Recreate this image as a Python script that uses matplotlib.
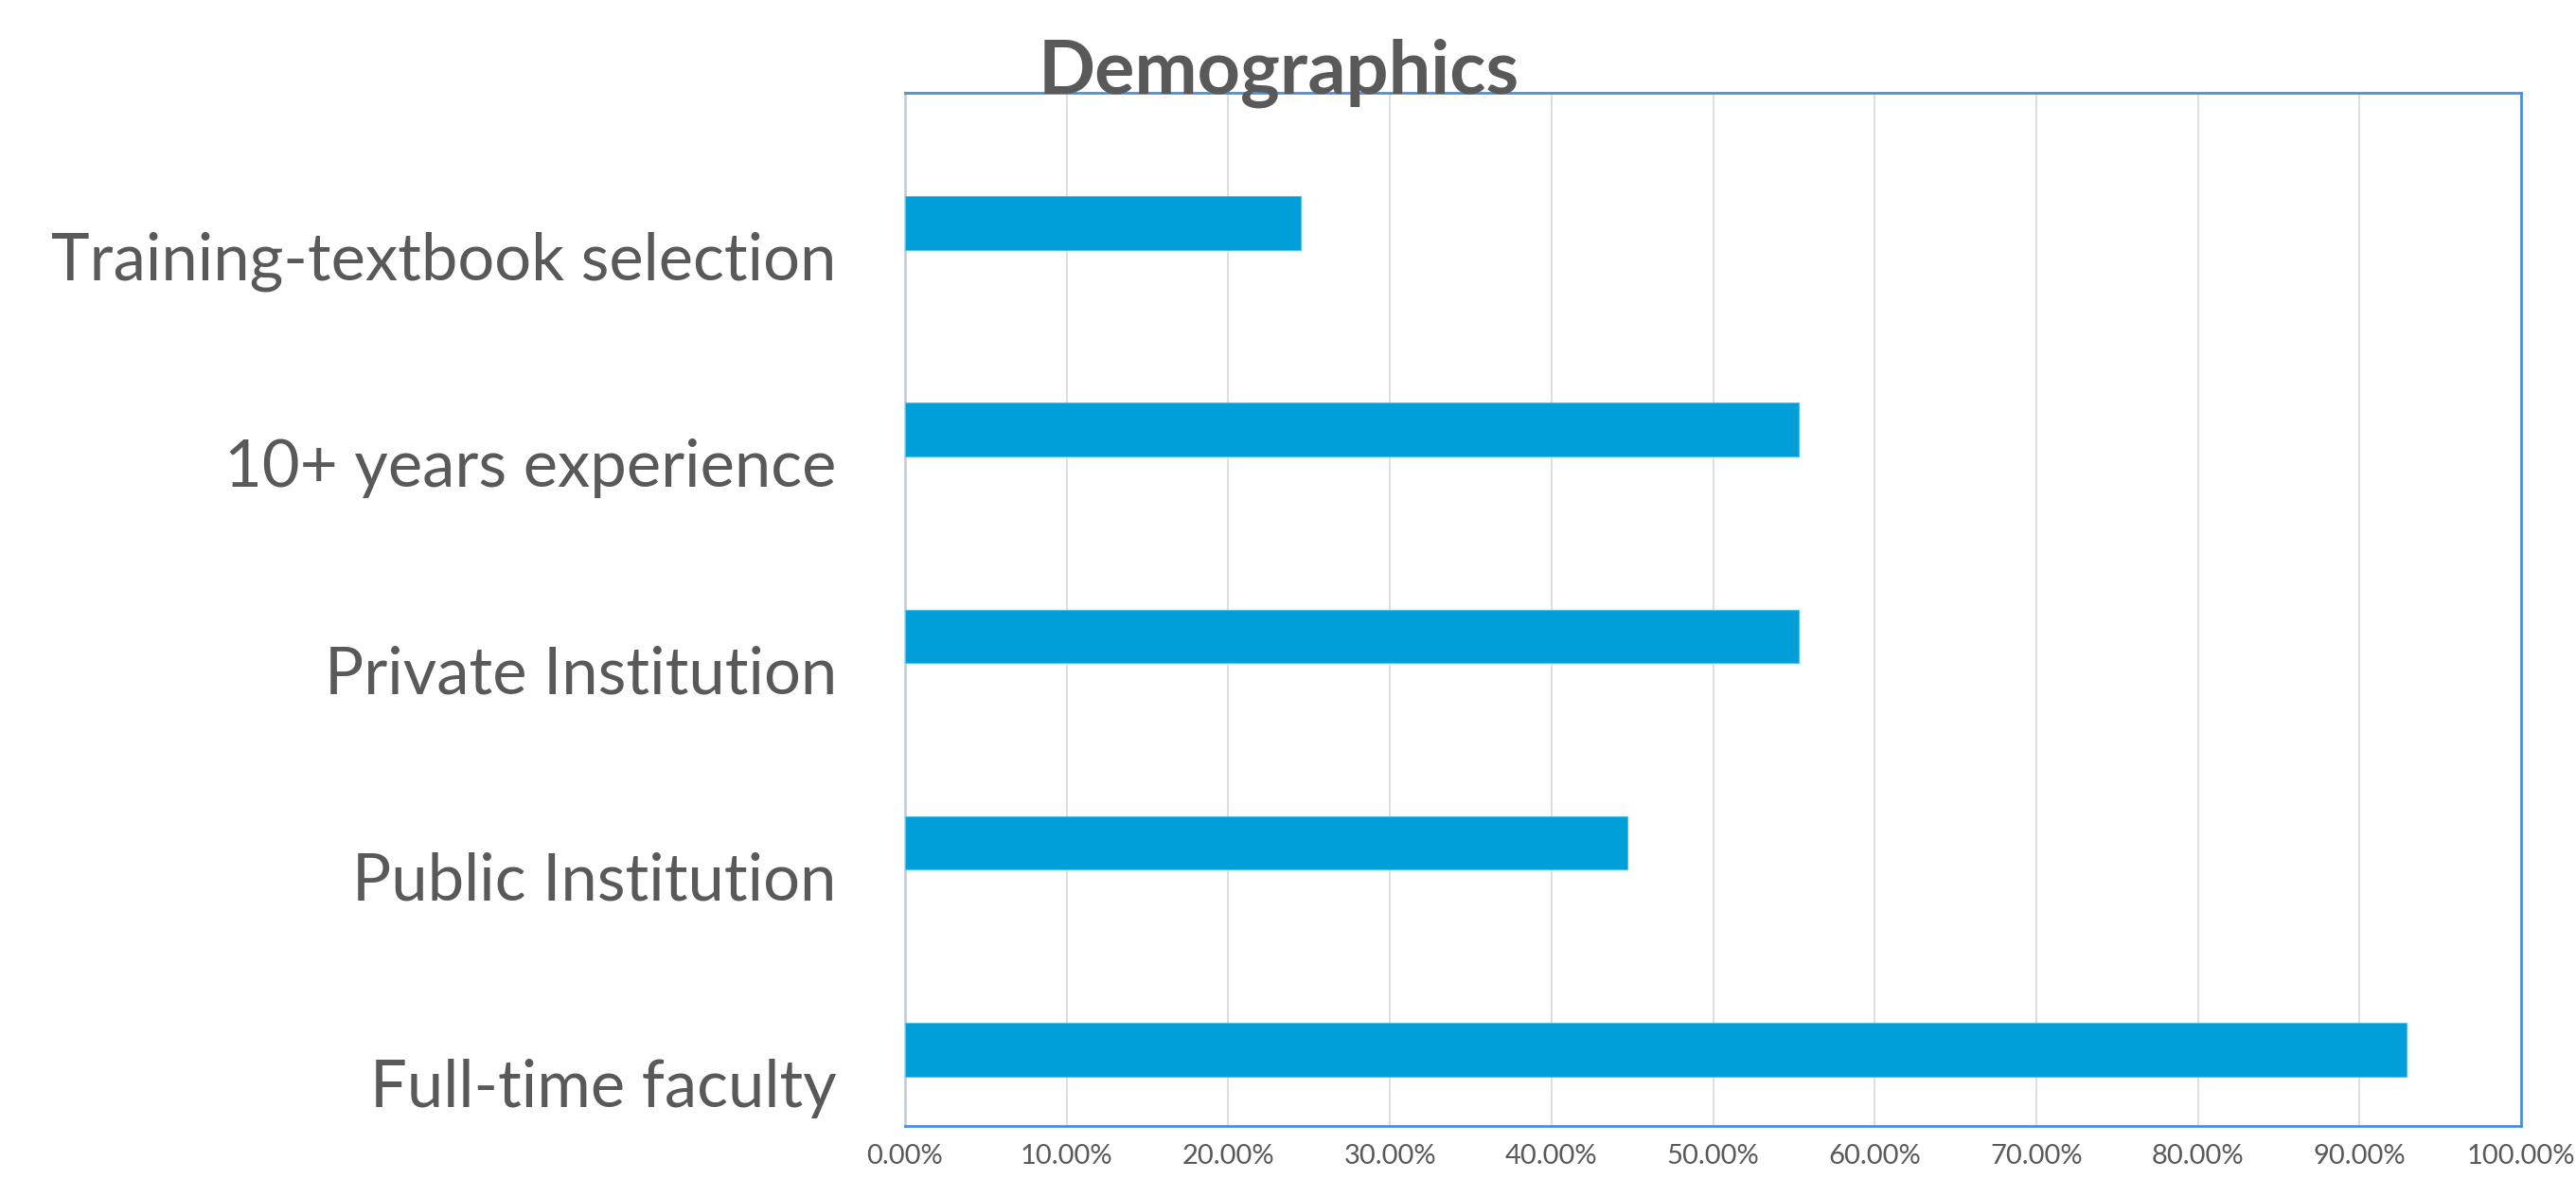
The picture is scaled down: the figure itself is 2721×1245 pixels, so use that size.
import matplotlib
matplotlib.use("Agg")
import matplotlib.pyplot as plt
from matplotlib import font_manager
import numpy as np
from matplotlib.ticker import FuncFormatter, MultipleLocator

# Data (bottom to top)
categories = ["Full-time faculty", "Public Institution", "Private Institution",
              "10+ years experience", "Training-textbook selection"]
values = [0.929, 0.447, 0.553, 0.553, 0.245]
title = "Demographics"

TEXT = "#595959"
BAR = "#009FD9"
BORDER = "#4A90D9"
GRID = "#D9D9D9"
FONT = "Lato"

names = {f.name for f in font_manager.fontManager.ttflist}
if "Liberation Sans Narrow" in names:
    XFONT, XSIZE = "Liberation Sans Narrow", 24.5
else:
    XFONT, XSIZE = "Lato", 21

W, H = 2721, 1245
fig = plt.figure(figsize=(W / 100, H / 100), dpi=100)
ax = fig.add_axes([956 / W, (H - 1189) / H, 1707 / W, (1189 - 98) / H])

y = np.arange(len(categories))
ax.barh(y, values, height=-0.26, align="edge", color=BAR,
        edgecolor="#4FC3EE", linewidth=0.8, zorder=3)

ax.set_xlim(0, 1)
ax.set_ylim(-0.5, len(categories) - 0.5)
ax.xaxis.set_major_locator(MultipleLocator(0.1))
ax.xaxis.set_major_formatter(FuncFormatter(lambda v, p: f"{v*100:.2f}%"))
ax.grid(axis="x", color=GRID, linewidth=1.2, zorder=0)
ax.set_axisbelow(True)

ax.set_yticks(y - 0.29)
ax.set_yticklabels(categories)
ax.tick_params(axis="y", length=0, pad=52, labelsize=49.5, labelcolor=TEXT)
ax.tick_params(axis="x", length=0, pad=14, labelsize=XSIZE, labelcolor=TEXT)
for lbl in ax.get_yticklabels():
    lbl.set_fontfamily(FONT)
for lbl in ax.get_xticklabels():
    lbl.set_fontfamily(XFONT)

for side in ["top", "right", "bottom"]:
    ax.spines[side].set_color(BORDER)
    ax.spines[side].set_linewidth(2)
ax.spines["left"].set_color("#C5CED8")
ax.spines["left"].set_linewidth(2)

fig.text(1351 / W, 1 - 99 / H, title, ha="center", va="baseline",
         fontsize=57, fontweight="bold", color=TEXT, fontfamily=FONT)

fig.savefig("out.png", dpi=100, facecolor="white")
